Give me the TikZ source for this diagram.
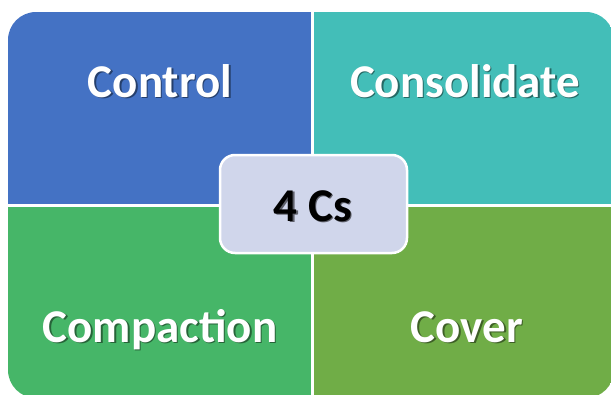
\documentclass[tikz,border=0pt]{standalone}
\usepackage{fontspec}
\setsansfont{Carlito}
\usepackage{tikz}
\usetikzlibrary{positioning}
\definecolor{ctrlblue}{RGB}{68, 114, 196}
\definecolor{consteal}{RGB}{67, 190, 184}
\definecolor{compgreen}{RGB}{70, 182, 104}
\definecolor{covergreen}{RGB}{112, 173, 71}
\definecolor{hublav}{RGB}{208, 214, 235}
% text with a drop shadow behind it: {shadow colour}{text}
\newcommand{\shadowed}[2]{%
  \makebox[0pt][l]{\hspace{1.5pt}\raisebox{-1.8pt}{\textcolor{#1}{#2}}}#2}

\begin{document}
\begin{tikzpicture}[
    x=1pt, y=-1pt,
    bigtext/.style={font=\sffamily\bfseries\fontsize{47}{50}\selectfont, inner sep=0pt, anchor=base},
    qlabel/.style={bigtext, text=white},
    hub/.style={draw=white, line width=2.5pt, rounded corners=15pt, fill=hublav,
                minimum width=187pt, minimum height=98pt, inner sep=0pt}
]
    \useasboundingbox (0,0) rectangle (611,394);

    % four blocks, clipped to one rounded outline
    \begin{scope}
        \clip[rounded corners=28pt] (8,12) rectangle (614,398);
        \fill[ctrlblue]   (8,12)   rectangle (311,204);
        \fill[consteal]   (314,12) rectangle (614,204);
        \fill[compgreen]  (8,207)  rectangle (311,398);
        \fill[covergreen] (314,207) rectangle (614,398);
    \end{scope}

    % block titles
    \node[qlabel] (control) at (160,97) {\shadowed{ctrlblue!55!black}{Control}};
    \node[qlabel] (consolidate) at (465,97) {\shadowed{consteal!55!black}{Consolidate}};
    \node[qlabel] (compaction) at (160,342) {\shadowed{compgreen!55!black}{Compaction}};
    \node[qlabel] (cover) at (467,342) {\shadowed{covergreen!55!black}{Cover}};

    % centre box
    \node[hub] (hub) at (313.5,204) {};
    \node[bigtext, text=black] (hubtext) at (313,221) {\shadowed{hublav!45!black}{4 Cs}};
\end{tikzpicture}
\end{document}
